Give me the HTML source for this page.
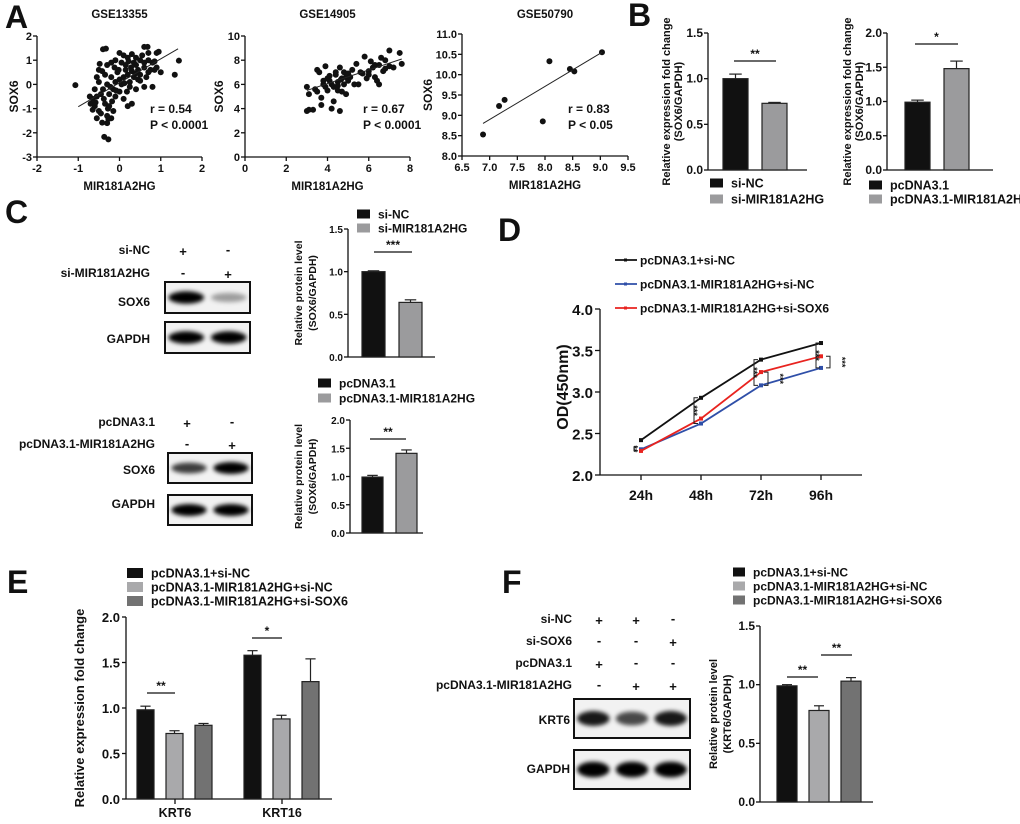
<!DOCTYPE html>
<html><head><meta charset="utf-8">
<style>
html,body{margin:0;padding:0;background:#fff;}
svg{display:block;font-family:"Liberation Sans",Arial,sans-serif;font-weight:bold;}
</style></head>
<body>
<svg id="fig" width="1020" height="824" viewBox="0 0 1020 824" xmlns="http://www.w3.org/2000/svg">
<defs><filter id="blur" x="-20%" y="-50%" width="140%" height="200%"><feGaussianBlur stdDeviation="2.2"/></filter></defs>
</svg>
<script>
// ---------- DATA ----------
const a1Points=[[-1.07,-0.03],[1.44,0.98],[1.34,0.4],[-0.37,-2.17],[-0.27,-2.27],[-0.4,1.45],[-0.33,1.48],[0.6,1.55],[0.68,1.55],[-0.55,-1.4],[-0.42,-1.58],[-0.2,-1.4],[-0.27,-1.43],[-0.3,-1.3],[-0.5,-1.1],[-0.6,-0.9],[-0.7,-0.8],[-0.65,-0.6],[-0.72,-0.5],[-0.55,-0.5],[-0.45,-0.4],[-0.35,-0.8],[-0.25,-0.9],[-0.15,-1.1],[-0.28,-1.0],[-0.4,-0.2],[-0.5,0.1],[-0.55,0.3],[-0.5,0.6],[-0.48,0.85],[-0.3,0.8],[-0.2,0.9],[-0.1,1.0],[0.0,1.3],[0.1,1.2],[0.2,1.1],[0.3,1.25],[0.4,1.1],[0.5,1.0],[0.7,1.3],[0.9,1.3],[0.95,1.35],[0.8,0.9],[0.85,0.6],[0.7,0.5],[0.6,0.7],[0.5,0.4],[0.45,0.2],[0.35,0.3],[0.3,0.55],[0.25,0.1],[0.2,0.4],[0.15,0.6],[0.1,0.3],[0.05,0.0],[0.0,0.2],[-0.05,0.5],[-0.1,0.1],[-0.15,-0.2],[-0.2,0.3],[-0.25,-0.4],[-0.3,0.0],[-0.35,0.4],[-0.1,-0.5],[0.0,-0.3],[0.1,-0.6],[0.2,-0.9],[0.3,-0.8],[0.25,-0.1],[0.4,0.8],[0.55,1.2],[0.6,0.9],[0.65,0.3],[0.75,0.6],[0.8,-0.1],[0.6,-0.1],[0.4,-0.2],[0.15,0.8],[0.05,0.9],[-0.02,0.6],[0.35,0.9],[0.45,0.6],[-0.6,-0.2],[-0.65,-1.05],[-0.45,-1.2],[-0.38,-0.6],[-0.18,-0.7],[-0.08,-0.25],[0.12,0.05],[0.28,0.7],[0.5,0.15],[0.9,0.7],[0.85,0.95],[1.0,0.5],[0.7,1.0],[-0.22,-0.1],[-0.12,0.7],[0.18,-0.3],[0.38,0.45],[0.22,0.95],[-0.42,0.55],[-0.58,-0.75],[-0.3,-1.6]];
const a1Fit=[[-1.0,-0.92],[1.42,1.47]];
const a2Points=[[3.0,3.8],[3.1,3.9],[3.3,3.9],[3.0,5.8],[3.1,5.2],[3.4,5.6],[3.5,7.2],[3.6,7.0],[3.5,5.4],[3.7,4.9],[3.7,4.3],[3.8,6.0],[3.9,7.5],[4.0,6.5],[4.0,5.5],[4.1,6.3],[4.2,4.0],[4.3,5.8],[4.3,4.6],[4.4,6.8],[4.5,6.2],[4.5,5.9],[4.6,7.4],[4.6,3.8],[4.7,6.5],[4.7,5.4],[4.8,6.0],[4.8,7.0],[4.9,6.6],[5.0,6.3],[5.0,6.9],[4.4,7.0],[4.2,6.0],[3.8,6.3],[4.5,5.5],[5.2,7.2],[5.3,6.0],[5.4,7.7],[5.5,6.0],[5.6,7.0],[5.8,8.3],[5.9,6.5],[6.0,7.1],[6.0,6.8],[6.1,7.9],[6.2,7.4],[6.3,6.6],[6.3,7.6],[6.4,6.3],[6.5,7.6],[6.5,6.0],[6.6,8.2],[6.7,7.1],[6.8,8.0],[7.0,7.5],[7.0,8.8],[7.2,7.4],[7.5,8.6],[7.6,7.7],[5.1,6.6],[4.1,6.7],[3.9,5.8],[4.9,5.2],[6.8,7.3],[5.7,6.9],[4.65,6.4]];
const a2Fit=[[3.0,5.5],[7.6,8.1]];
const a3Points=[[6.88,8.53],[7.17,9.23],[7.27,9.38],[7.96,8.85],[8.08,10.33],[8.45,10.14],[8.53,10.08],[9.03,10.55]];
const a3Fit=[[6.88,8.8],[9.03,10.55]];

const b1Groups=['si-NC','si-MIR181A2HG'];
const b1Means=[1.0,0.73];
const b1Errs=[0.05,0.01];
const b2Groups=['pcDNA3.1','pcDNA3.1-MIR181A2HG'];
const b2Means=[0.99,1.48];
const b2Errs=[0.03,0.11];
const c1Means=[1.0,0.64];
const c1Errs=[0.01,0.03];
const c2Means=[0.99,1.41];
const c2Errs=[0.03,0.06];

const dTimes=['24h','48h','72h','96h'];
const dSeriesNames=['pcDNA3.1+si-NC','pcDNA3.1-MIR181A2HG+si-NC','pcDNA3.1-MIR181A2HG+si-SOX6'];
const dBlack=[2.42,2.93,3.39,3.59];
const dBlue=[2.31,2.62,3.08,3.29];
const dRed=[2.29,2.68,3.24,3.43];

const eGenes=['KRT6','KRT16'];
const eGroupNames=['pcDNA3.1+si-NC','pcDNA3.1-MIR181A2HG+si-NC','pcDNA3.1-MIR181A2HG+si-SOX6'];
const eMeans=[[0.98,0.72,0.81],[1.58,0.88,1.29]];
const eErrs=[[0.04,0.03,0.02],[0.05,0.04,0.25]];
const fMeans=[0.99,0.78,1.03];
const fErrs=[0.01,0.04,0.03];

// ---------- HELPERS ----------
const NS='http://www.w3.org/2000/svg';
const svg=document.getElementById('fig');
function mk(tag,a,p){const e=document.createElementNS(NS,tag);for(const k in a)e.setAttribute(k,a[k]);(p||svg).appendChild(e);return e;}
function t(x,y,s,size,anchor,rot){const a={x:x,y:y,'font-size':size,'text-anchor':anchor||'start',fill:'#111'};if(rot)a.transform='rotate(-90 '+x+' '+y+')';const e=mk('text',a);e.textContent=s;return e;}
function line(x1,y1,x2,y2,c,w){return mk('line',{x1:x1,y1:y1,x2:x2,y2:y2,stroke:c||'#111','stroke-width':w||1.3});}

[['A',5,28],['B',628,26],['C',5,223],['D',498,241],['E',7,593],['F',502,593]].forEach(l=>{
  const e=t(l[1],l[2],l[0],32,'start');
  
  
});

// ---------- SCATTER ----------
function scatter(id,title,pts,fit,ax,r,p,fmt){
  const sx=v=>ax.x0+(v-ax.xmin)/(ax.xmax-ax.xmin)*(ax.x1-ax.x0);
  const sy=v=>ax.y0-(v-ax.ymin)/(ax.ymax-ax.ymin)*(ax.y0-ax.y1);
  const ti=t((ax.x0+ax.x1)/2,ax.titleY||18,title,11.5,'middle');
  
  
  const ya=line(ax.x0,ax.y1,ax.x0,ax.y0);
  
  
  const xa=line(ax.x0,ax.y0,ax.x1,ax.y0);
  
  
  for(let v=ax.ymin;v<=ax.ymax+1e-9;v+=ax.ys){line(ax.x0-4,sy(v),ax.x0,sy(v));const l=t(ax.x0-5,sy(v)+4,fmt(v),11,'end');}
  for(let v=ax.xmin;v<=ax.xmax+1e-9;v+=ax.xs){line(sx(v),ax.y0,sx(v),ax.y0+4);const l=t(sx(v),ax.y0+15,fmt(v),11,'middle');}
  const xt=t((ax.x0+ax.x1)/2,ax.y0+33,'MIR181A2HG',11.5,'middle');
  
  
  const yt=t(ax.x0-ax.ytOff,(ax.y0+ax.y1)/2,'SOX6',12,'middle',true);
  
  
  pts.forEach(q=>{const c=mk('circle',{cx:sx(q[0]),cy:sy(q[1]),r:3,fill:'#111'});});
  const f=line(sx(fit[0][0]),sy(fit[0][1]),sx(fit[1][0]),sy(fit[1][1]),'#222',1);
  
  
  const s1=t(ax.sx,113,r,12,'start');
  const s2=t(ax.sx,129,p,12,'start');
}
scatter('scatter-gse13355','GSE13355',a1Points,a1Fit,{x0:37,x1:202,y0:157,y1:36,xmin:-2,xmax:2,xs:1,ymin:-3,ymax:2,ys:1,ytOff:19,sx:150},'r = 0.54','P < 0.0001',v=>String(Math.round(v)));
scatter('scatter-gse14905','GSE14905',a2Points,a2Fit,{x0:245,x1:410,y0:157,y1:36,xmin:0,xmax:8,xs:2,ymin:0,ymax:10,ys:2,ytOff:22,sx:363},'r = 0.67','P < 0.0001',v=>String(Math.round(v)));
scatter('scatter-gse50790','GSE50790',a3Points,a3Fit,{x0:462,x1:628,y0:156,y1:34,xmin:6.5,xmax:9.5,xs:0.5,ymin:8,ymax:11,ys:0.5,ytOff:30,sx:568},'r = 0.83','P < 0.05',v=>v.toFixed(1));

// ---------- BAR CHART ----------
function barChart(id,means,errs,colors,ax){
  const sy=v=>ax.y0-v/ax.max*(ax.y0-ax.y1);
  const ya=line(ax.x0,ax.y1,ax.x0,ax.y0);
  
  
  const xa=line(ax.x0,ax.y0,ax.xEnd,ax.y0);
  
  
  for(let v=0;v<=ax.max+1e-9;v+=ax.step){line(ax.x0-4,sy(v),ax.x0,sy(v));const l=t(ax.x0-5,sy(v)+4,v.toFixed(1),ax.fs||11,'end');}
  means.forEach((m,i)=>{
    const bx=ax.bx+i*ax.bstep;
    const top=sy(m+errs[i]);
    const eb=line(bx+ax.bw/2,top,bx+ax.bw/2,sy(m),'#222',1.2);
    
    
    line(bx+ax.bw*0.25,top,bx+ax.bw*0.75,top,'#222',1.2);
    const r=mk('rect',{x:bx,y:sy(m),width:ax.bw,height:ax.y0-sy(m),fill:colors[i],stroke:'#222','stroke-width':1.2});
    
    
  });
  (ax.sig||[]).forEach(s=>{
    const sl=line(s[0],s[2],s[1],s[2],'#111',1.3);
    
    
    const st=t((s[0]+s[1])/2,s[2]-3,s[3],12,'middle');
    
    
  });
  ax.title.forEach((tt,k)=>{const e=t(ax.tx+k*(ax.tsp||14),(ax.y0+ax.y1)/2,tt,ax.tfs||11,'middle',true);});
}
function legend(id,names,colors,x,ys,w,h,fs){
  names.forEach((n,i)=>{
    const r=mk('rect',{x:x,y:ys[i]-h/2,width:w,height:h,fill:colors[i]});
    
    
    const e=t(x+w+8,ys[i]+4.5,n,fs||12,'start');
    
    
  });
}
const K='#111', G='#9b9b9d', LG='#a9a9ab', DG='#727272';

barChart('chart-b1',b1Means,b1Errs,[K,G],{x0:708,xEnd:807,y0:170,y1:33,max:1.5,step:0.5,bx:723,bw:25,bstep:39,tx:670,tsp:12,tfs:11,fs:12,title:['Relative expression fold change','(SOX6/GAPDH)'],sig:[[734,776,61,'**']]});
legend('chart-b1',b1Groups,[K,G],710,[183,199],13,9,12.5);
barChart('chart-b2',b2Means,b2Errs,[K,G],{x0:887,xEnd:993,y0:170,y1:33,max:2.0,step:0.5,bx:905,bw:25,bstep:39,tx:851,tsp:12,tfs:11,fs:12,title:['Relative expression fold change','(SOX6/GAPDH)'],sig:[[915,958,44,'*']]});
legend('chart-b2',b2Groups,[K,G],869,[185,199],13,9,12.5);

barChart('chart-c1',c1Means,c1Errs,[K,G],{x0:348,xEnd:435,y0:357,y1:229,max:1.5,step:0.5,bx:362,bw:23,bstep:37,tx:302,tfs:10.5,fs:10,title:['Relative protein level','(SOX6/GAPDH)'],sig:[[374,412,252,'***']]});
legend('chart-c1',b1Groups,[K,G],357,[214,228],13,9,12);
barChart('chart-c2',c2Means,c2Errs,[K,G],{x0:350,xEnd:423,y0:533,y1:420,max:2.0,step:0.5,bx:362,bw:21,bstep:34,tx:302,tfs:10.5,fs:10,title:['Relative protein level','(SOX6/GAPDH)'],sig:[[370,406,439,'**']]});
legend('chart-c2',b2Groups,[K,G],318,[383,398],13,9,12);

barChart('chart-f',fMeans,fErrs,[K,LG,DG],{x0:760,xEnd:873,y0:802,y1:626,max:1.5,step:0.5,bx:777,bw:20,bstep:32,tx:717,tfs:11,fs:12,title:['Relative protein level','(KRT6/GAPDH)'],sig:[[787,818,677,'**'],[821,852,655,'**']]});
legend('chart-f',eGroupNames,[K,LG,DG],733,[572,586,600],12,9,12);

// ---------- E grouped bars ----------
(function(){
  const id='chart-e', x0=126,xEnd=332,y0=799,y1=617,max=2.0;
  const sy=v=>y0-v/max*(y0-y1);
  const cols=[K,LG,DG];
  const ya=line(x0,y1,x0,y0);
  const xa=line(x0,y0,xEnd,y0);
  for(let v=0;v<=max+1e-9;v+=0.5){line(x0-4,sy(v),x0,sy(v));const l=t(x0-6,sy(v)+5,v.toFixed(1),13,'end');}
  eGenes.forEach((g,gi)=>{
    const gx=137+gi*107;
    eMeans[gi].forEach((m,i)=>{
      const bx=gx+i*29,bw=17,top=sy(m+eErrs[gi][i]);
      const eb=line(bx+bw/2,top,bx+bw/2,sy(m),'#222',1.2);
      line(bx+bw*0.2,top,bx+bw*0.8,top,'#222',1.2);
      const r=mk('rect',{x:bx,y:sy(m),width:bw,height:y0-sy(m),fill:cols[i],stroke:'#222','stroke-width':1.2});
      
      
    });
    const cx=gx+38;
    line(cx,y0,cx,y0+5);
    const l=t(cx,817,g,12.5,'middle');
  });
  [[147,175,693,'**'],[252,282,638,'*']].forEach(s=>{
    const sl=line(s[0],s[2],s[1],s[2]);
    const st=t((s[0]+s[1])/2,s[2]-3,s[3],12,'middle');
  });
  const yt=t(84,708,'Relative expression fold change',13,'middle',true);
  legend(id,eGroupNames,cols,127,[573,587,601],16,10,12.5);
})();

// ---------- D line chart ----------
(function(){
  const id='chart-d', x0=600,xEnd=862,y0=475,y1=309,ymin=2,ymax=4;
  const sy=v=>y0-(v-ymin)/(ymax-ymin)*(y0-y1);
  const sx=i=>641+i*60;
  const ya=line(x0,y1,x0,y0);
  const xa=line(x0,y0,xEnd,y0);
  for(let v=ymin;v<=ymax+1e-9;v+=0.5){line(x0-5,sy(v),x0,sy(v));const l=t(x0-7,sy(v)+6,v.toFixed(1),15,'end');}
  dTimes.forEach((d,i)=>{line(sx(i),y0,sx(i),y0+5);const l=t(sx(i),500,d,14,'middle');});
  const yt=t(568,387,'OD(450nm)',16,'middle',true);
  const series=[[dBlack,'#111'],[dBlue,'#2f4fa8'],[dRed,'#e8231f']];
  series.forEach((s,si)=>{
    const pts=s[0].map((v,i)=>sx(i)+','+sy(v)).join(' ');
    const pl=mk('polyline',{points:pts,fill:'none',stroke:s[1],'stroke-width':1.8});
    
    
    s[0].forEach((v,i)=>{const m=mk('rect',{x:sx(i)-2,y:sy(v)-2,width:4,height:4,fill:s[1]});});
    const ly=260+si*24;
    const ll=line(615,ly,637,ly,s[1],1.8);
    mk('rect',{x:624,y:ly-1.5,width:3,height:3,fill:s[1]});
    const lt=t(640,ly+4.5,dSeriesNames[si],12,'start');
  });
  function br(x,a,b,label,left){
    const d=left?4:-4;
    const p=mk('path',{d:'M'+(x+d)+' '+sy(a)+' H'+x+' V'+sy(b)+' H'+(x+d),fill:'none',stroke:'#222','stroke-width':1});
    
    
    const cy=(sy(a)+sy(b))/2, tx=left?x-3:x+9;
    const st=t(tx,cy,label,9,'middle');st.setAttribute('transform','rotate(90 '+tx+' '+cy+')');
    
    
  }
  br(sx(0)-7,dBlack[0]-0.08,dRed[0],'**',true);
  br(sx(1)-7,dBlack[1],dBlue[1],'***',true);
  br(sx(2)-7,dBlack[2],dBlue[2],'***',true);
  br(sx(2)+7,dRed[2],dBlue[2],'***',false);
  br(sx(3)-5,dBlack[3],dBlue[3],'***',true);
  br(sx(3)+9,dRed[3],dBlue[3],'***',false);
})();

// ---------- WESTERN BLOTS ----------
function blot(id,x,y,w,h,ints){
  const g=mk('g',{});
  
  
  mk('rect',{x:x,y:y,width:w,height:h,fill:'#f2f2f2',stroke:'#111','stroke-width':2},g);
  const lw=w/ints.length;
  ints.forEach((v,i)=>{mk('ellipse',{cx:x+lw*(i+0.5),cy:y+h/2,rx:lw*0.42,ry:h*0.2*(0.6+0.4*v),fill:'#000','fill-opacity':v,filter:'url(#blur)'},g);});
}
function labels(id,rows,xr,signs,xs){
  rows.forEach((r,i)=>{
    const l=t(xr,r[1],r[0],12,'end');
    signs[i].forEach((s,j)=>{const e=t(xs[j],r[1]+(s==='+'?2:0),s,13,'middle');});
  });
}
labels('blot-c1',[['si-NC',254],['si-MIR181A2HG',277]],150,[['+','-'],['-','+']],[183,228]);
labels('blot-c1',[['SOX6',306],['GAPDH',343]],150,[[],[]],[]);
blot('blot-c1-sox6',165,282,85,31,[1,0.35]);
blot('blot-c1-gapdh',165,322,85,31,[1,1]);
labels('blot-c2',[['pcDNA3.1',426],['pcDNA3.1-MIR181A2HG',448]],155,[['+','-'],['-','+']],[187,232]);
labels('blot-c2',[['SOX6',474],['GAPDH',508]],155,[[],[]],[]);
blot('blot-c2-sox6',168,453,84,30,[0.75,1]);
blot('blot-c2-gapdh',168,495,84,30,[1,1]);
labels('blot-f',[['si-NC',623],['si-SOX6',645],['pcDNA3.1',667],['pcDNA3.1-MIR181A2HG',689]],572,[['+','+','-'],['-','-','+'],['+','-','-'],['-','+','+']],[599,636,673]);
labels('blot-f',[['KRT6',724],['GAPDH',773]],570,[[],[]],[]);
blot('blot-f-krt6',574,699,116,39,[0.9,0.7,0.9]);
blot('blot-f-gapdh',574,750,116,39,[1,1,1]);
</script>
</body></html>
